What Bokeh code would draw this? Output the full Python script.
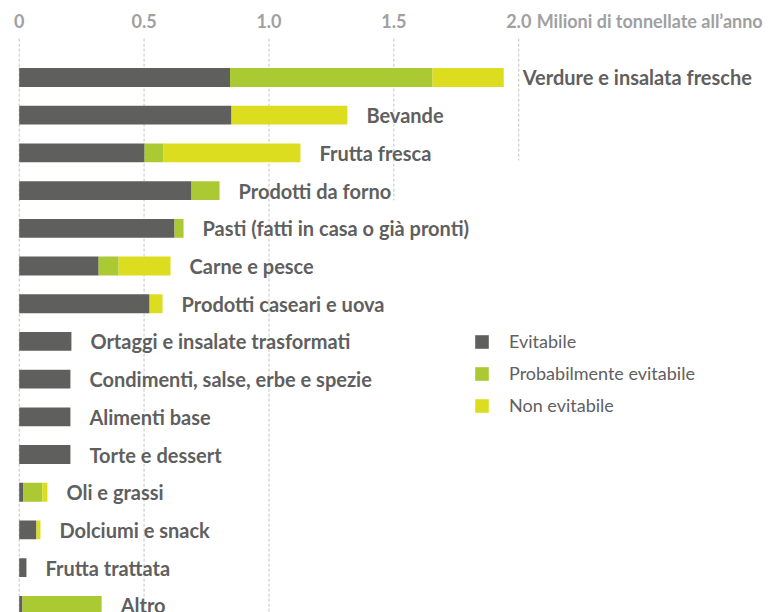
from bokeh.plotting import figure
from bokeh.models import ColumnDataSource, Range1d, Legend, LegendItem
from bokeh.core.properties import value
from bokeh.embed import file_html
from bokeh.resources import INLINE

categories = [
    "Verdure e insalata fresche", "Bevande", "Frutta fresca", "Prodotti da forno",
    "Pasti (fatti in casa o già pronti)", "Carne e pesce", "Prodotti caseari e uova",
    "Ortaggi e insalate trasformati", "Condimenti, salse, erbe e spezie",
    "Alimenti base", "Torte e dessert", "Oli e grassi", "Dolciumi e snack",
    "Frutta trattata", "Altro",
]
evitabile = [0.844, 0.850, 0.502, 0.690, 0.622, 0.318, 0.522, 0.209, 0.205, 0.205, 0.205, 0.017, 0.069, 0.029, 0.013]
prob_evitabile = [0.811, 0.0, 0.076, 0.112, 0.036, 0.080, 0.0, 0.0, 0.0, 0.0, 0.0, 0.076, 0.0, 0.0, 0.317]
non_evitabile = [0.285, 0.464, 0.548, 0.0, 0.0, 0.208, 0.052, 0.0, 0.0, 0.0, 0.0, 0.020, 0.016, 0.0, 0.0]
series_names = ["Evitabile", "Probabilmente evitabile", "Non evitabile"]
tick_values = [0, 0.5, 1.0, 1.5, 2.0]
tick_labels = ["0", "0.5", "1.0", "1.5", "2.0"]
axis_title = "Milioni di tonnellate all\u2019anno"

colors = ["#5f5f5e", "#abc932", "#dcdd1f"]
FONT = "Lato"

rows = list(range(len(categories)))
totals = [a + b + c for a, b, c in zip(evitabile, prob_evitabile, non_evitabile)]
src = ColumnDataSource(dict(y=rows, cat=categories, ev=evitabile, pe=prob_evitabile,
                            ne=non_evitabile, tot=totals))

W, H = 773, 612
p = figure(width=W, height=H, output_backend="svg", toolbar_location=None,
           x_range=Range1d(-0.0749, 3.020), y_range=Range1d(14.19, -2.042),
           min_border=0)
p.axis.visible = False
p.grid.visible = False
p.outline_line_color = None
p.background_fill_color = "white"

# dashed gridlines (some are interrupted in the original)
grid_end = [14.19, 14.19, 14.19, 3.26, 2.2]
p.segment(x0=tick_values, x1=tick_values, y0=[-1.03] * 5, y1=grid_end,
          line_color="#c4c4c4", line_width=1, line_dash="3 2")

# tick labels on top
p.text(x=tick_values, y=[-1.51] * 5, text=tick_labels, text_align="center",
       text_baseline="middle", text_color="#a0a0a0", text_font=value(FONT),
       text_font_size="18px", text_font_style="bold")
p.text(x=[2.0], y=[-1.51], text=[axis_title], x_offset=18, text_align="left",
       text_baseline="middle", text_color="#a0a0a0", text_font=value(FONT),
       text_font_size="18px", text_font_style="bold")

rs = p.hbar_stack(["ev", "pe", "ne"], y="y", height=0.5, color=colors, source=src,
                  line_color=None)

p.text(x="tot", y="y", text="cat", source=src, x_offset=19, text_align="left",
       text_baseline="middle", text_color="#5f5f5f", text_font=value(FONT),
       text_font_size="20px", text_font_style="bold")

legend = Legend(items=[LegendItem(label=n, renderers=[r]) for n, r in zip(series_names, rs)],
                location=(473, 196), orientation="vertical", glyph_width=17,
                glyph_height=17, label_height=17, spacing=10, padding=0, margin=0,
                label_standoff=19, label_text_font=FONT, label_text_font_size="18px",
                label_text_color="#606060", border_line_color=None,
                background_fill_alpha=0)
p.add_layout(legend, "center")

open("out.html", "w").write(file_html(p, INLINE))
